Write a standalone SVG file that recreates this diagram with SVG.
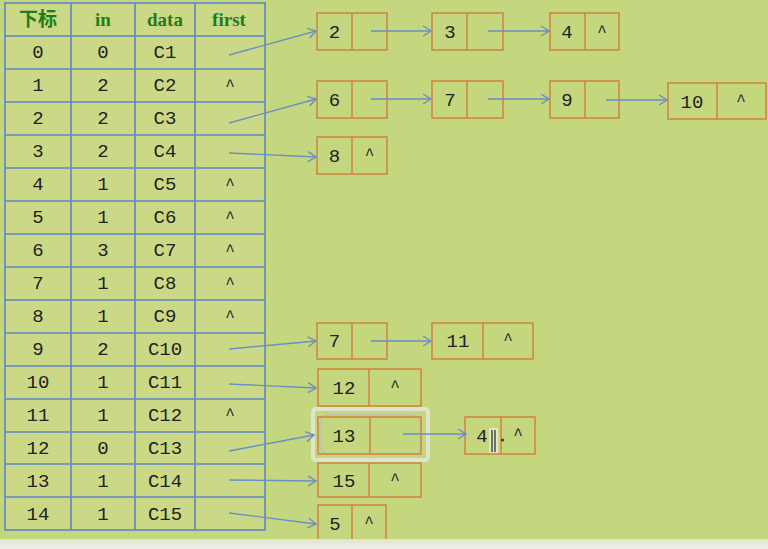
<svg xmlns="http://www.w3.org/2000/svg" width="768" height="549" viewBox="0 0 768 549">
<defs>
<style>
.grid{stroke:#5d86c6;stroke-width:1.6;fill:none}
.hd{font-family:"Liberation Serif","Noto Sans CJK SC",serif;font-weight:bold;font-size:19px;fill:#1e7d1e;text-anchor:middle}
.t{font-family:"Liberation Mono","DejaVu Sans Mono",monospace;font-size:19px;fill:#222;text-anchor:middle}
.c{font-family:"Liberation Mono","DejaVu Sans Mono",monospace;font-size:16px;fill:#222;text-anchor:middle}
.box{fill:none;stroke:#d0893f;stroke-width:1.6}
.conn line{stroke:#6a8fc6;stroke-width:1.4;marker-end:url(#ah)}
</style>
<marker id="ah" markerUnits="userSpaceOnUse" markerWidth="10" markerHeight="12" refX="9" refY="6" orient="auto">
<path d="M1,1 L9,6 L1,11" fill="none" stroke="#6a8fc6" stroke-width="1.4"/>
</marker>
<linearGradient id="strip" x1="0" y1="0" x2="0" y2="1">
<stop offset="0" stop-color="#dfe5cc"/>
<stop offset="1" stop-color="#eef0ea"/>
</linearGradient>
</defs>
<rect width="768" height="549" fill="#c4d67e"/>
<g id="table">
<rect x="5" y="3" width="260" height="527" fill="#cbd986"/>
<g class="grid">
<rect x="5" y="3" width="260" height="527"/>
<line x1="71" y1="3" x2="71" y2="530"/>
<line x1="135" y1="3" x2="135" y2="530"/>
<line x1="195" y1="3" x2="195" y2="530"/>
<line x1="5" y1="36" x2="265" y2="36"/>
<line x1="5" y1="69" x2="265" y2="69"/>
<line x1="5" y1="102" x2="265" y2="102"/>
<line x1="5" y1="135" x2="265" y2="135"/>
<line x1="5" y1="168" x2="265" y2="168"/>
<line x1="5" y1="201" x2="265" y2="201"/>
<line x1="5" y1="234" x2="265" y2="234"/>
<line x1="5" y1="267" x2="265" y2="267"/>
<line x1="5" y1="300" x2="265" y2="300"/>
<line x1="5" y1="333" x2="265" y2="333"/>
<line x1="5" y1="366" x2="265" y2="366"/>
<line x1="5" y1="399" x2="265" y2="399"/>
<line x1="5" y1="432" x2="265" y2="432"/>
<line x1="5" y1="464" x2="265" y2="464"/>
<line x1="5" y1="497" x2="265" y2="497"/>
</g>
<text class="hd" x="38" y="26">下标</text>
<text class="hd" x="103" y="26">in</text>
<text class="hd" x="165" y="26">data</text>
<text class="hd" x="229" y="26">first</text>
<g class="t">
<text x="38" y="58">0</text><text x="103" y="58">0</text><text x="165" y="58">C1</text>
<text x="38" y="91">1</text><text x="103" y="91">2</text><text x="165" y="91">C2</text>
<text x="38" y="124">2</text><text x="103" y="124">2</text><text x="165" y="124">C3</text>
<text x="38" y="157">3</text><text x="103" y="157">2</text><text x="165" y="157">C4</text>
<text x="38" y="190">4</text><text x="103" y="190">1</text><text x="165" y="190">C5</text>
<text x="38" y="223">5</text><text x="103" y="223">1</text><text x="165" y="223">C6</text>
<text x="38" y="256">6</text><text x="103" y="256">3</text><text x="165" y="256">C7</text>
<text x="38" y="289">7</text><text x="103" y="289">1</text><text x="165" y="289">C8</text>
<text x="38" y="322">8</text><text x="103" y="322">1</text><text x="165" y="322">C9</text>
<text x="38" y="355">9</text><text x="103" y="355">2</text><text x="165" y="355">C10</text>
<text x="38" y="388">10</text><text x="103" y="388">1</text><text x="165" y="388">C11</text>
<text x="38" y="421">11</text><text x="103" y="421">1</text><text x="165" y="421">C12</text>
<text x="38" y="454">12</text><text x="103" y="454">0</text><text x="165" y="454">C13</text>
<text x="38" y="487">13</text><text x="103" y="487">1</text><text x="165" y="487">C14</text>
<text x="38" y="520">14</text><text x="103" y="520">1</text><text x="165" y="520">C15</text>
</g>
<g class="c">
<text x="230" y="91">^</text>
<text x="230" y="190">^</text>
<text x="230" y="223">^</text>
<text x="230" y="256">^</text>
<text x="230" y="289">^</text>
<text x="230" y="322">^</text>
<text x="230" y="420">^</text>
</g>
</g>
<g id="sel">
<rect x="313" y="409" width="115" height="51" rx="3" fill="none" stroke="#e4e6da" stroke-opacity="0.85" stroke-width="4"/>
<rect x="320" y="415" width="101" height="39" rx="8" fill="none" stroke="#b9b6d6" stroke-width="1"/>
</g>
<g id="n2"><rect class="box" x="317" y="13" width="70" height="37"/><line class="box" x1="352" y1="13" x2="352" y2="50"/><text class="t" x="334.5" y="38">2</text></g>
<g id="n3"><rect class="box" x="432" y="13" width="71" height="37"/><line class="box" x1="467" y1="13" x2="467" y2="50"/><text class="t" x="450" y="38">3</text></g>
<g id="n4a"><rect class="box" x="550" y="13" width="69" height="37"/><line class="box" x1="585" y1="13" x2="585" y2="50"/><text class="t" x="567" y="38">4</text><text class="c" x="602" y="37">^</text></g>
<g id="n6"><rect class="box" x="317" y="81" width="70" height="37"/><line class="box" x1="352" y1="81" x2="352" y2="118"/><text class="t" x="334.5" y="106">6</text></g>
<g id="n7a"><rect class="box" x="432" y="81" width="71" height="37"/><line class="box" x1="467" y1="81" x2="467" y2="118"/><text class="t" x="450" y="106">7</text></g>
<g id="n9"><rect class="box" x="550" y="81" width="69" height="37"/><line class="box" x1="585" y1="81" x2="585" y2="118"/><text class="t" x="567" y="106">9</text></g>
<g id="n10"><rect class="box" x="668" y="83" width="98" height="36"/><line class="box" x1="717" y1="83" x2="717" y2="119"/><text class="t" x="692" y="108">10</text><text class="c" x="741" y="106">^</text></g>
<g id="n8"><rect class="box" x="317" y="137" width="70" height="37"/><line class="box" x1="352" y1="137" x2="352" y2="174"/><text class="t" x="334.5" y="162">8</text><text class="c" x="369.5" y="160">^</text></g>
<g id="n7b"><rect class="box" x="317" y="323" width="70" height="36"/><line class="box" x1="352" y1="323" x2="352" y2="359"/><text class="t" x="334.5" y="347">7</text></g>
<g id="n11"><rect class="box" x="432" y="323" width="101" height="36"/><line class="box" x1="483" y1="323" x2="483" y2="359"/><text class="t" x="458" y="347">11</text><text class="c" x="508" y="345">^</text></g>
<g id="n12"><rect class="box" x="318" y="369" width="103" height="37"/><line class="box" x1="369" y1="369" x2="369" y2="406"/><text class="t" x="344" y="394">12</text><text class="c" x="395" y="392">^</text></g>
<g id="n13"><rect class="box" x="318" y="417" width="103" height="37"/><line class="box" x1="370" y1="417" x2="370" y2="454"/><text class="t" x="344" y="442">13</text></g>
<g id="n4b"><rect class="box" x="465" y="417" width="70" height="37"/><line class="box" x1="501" y1="417" x2="501" y2="454"/><text class="t" x="482" y="442">4</text><text class="c" x="518" y="440">^</text>
<rect x="489" y="428" width="9" height="25" fill="#e8ecd6" opacity="0.8"/><line x1="492" y1="430" x2="492" y2="452" stroke="#222" stroke-width="1.2"/><line x1="495" y1="430" x2="495" y2="452" stroke="#222" stroke-width="1.2"/><circle cx="502.5" cy="440" r="1.5" fill="#333"/></g>
<g id="n15"><rect class="box" x="318" y="463" width="103" height="34"/><line class="box" x1="369" y1="463" x2="369" y2="497"/><text class="t" x="344" y="487">15</text><text class="c" x="395" y="485">^</text></g>
<g id="n5"><rect class="box" x="318" y="505" width="68" height="38"/><line class="box" x1="352" y1="505" x2="352" y2="543"/><text class="t" x="335" y="530">5</text><text class="c" x="369" y="528">^</text></g>
<g id="connectors" class="conn">
<line x1="229" y1="55" x2="316" y2="31"/>
<line x1="229" y1="123" x2="316" y2="99"/>
<line x1="229" y1="153" x2="316" y2="157"/>
<line x1="229" y1="349" x2="316" y2="341"/>
<line x1="229" y1="384" x2="316" y2="388"/>
<line x1="229" y1="451" x2="314" y2="435"/>
<line x1="229" y1="480" x2="316" y2="481"/>
<line x1="229" y1="513" x2="316" y2="524"/>
<line x1="371" y1="31" x2="431" y2="31"/>
<line x1="488" y1="31" x2="549" y2="31"/>
<line x1="371" y1="99" x2="431" y2="99"/>
<line x1="488" y1="99" x2="549" y2="99"/>
<line x1="606" y1="100" x2="667" y2="100"/>
<line x1="371" y1="341" x2="431" y2="341"/>
<line x1="403" y1="434" x2="466" y2="434"/>
</g>
<rect x="0" y="539" width="768" height="10" fill="url(#strip)"/>
</svg>
